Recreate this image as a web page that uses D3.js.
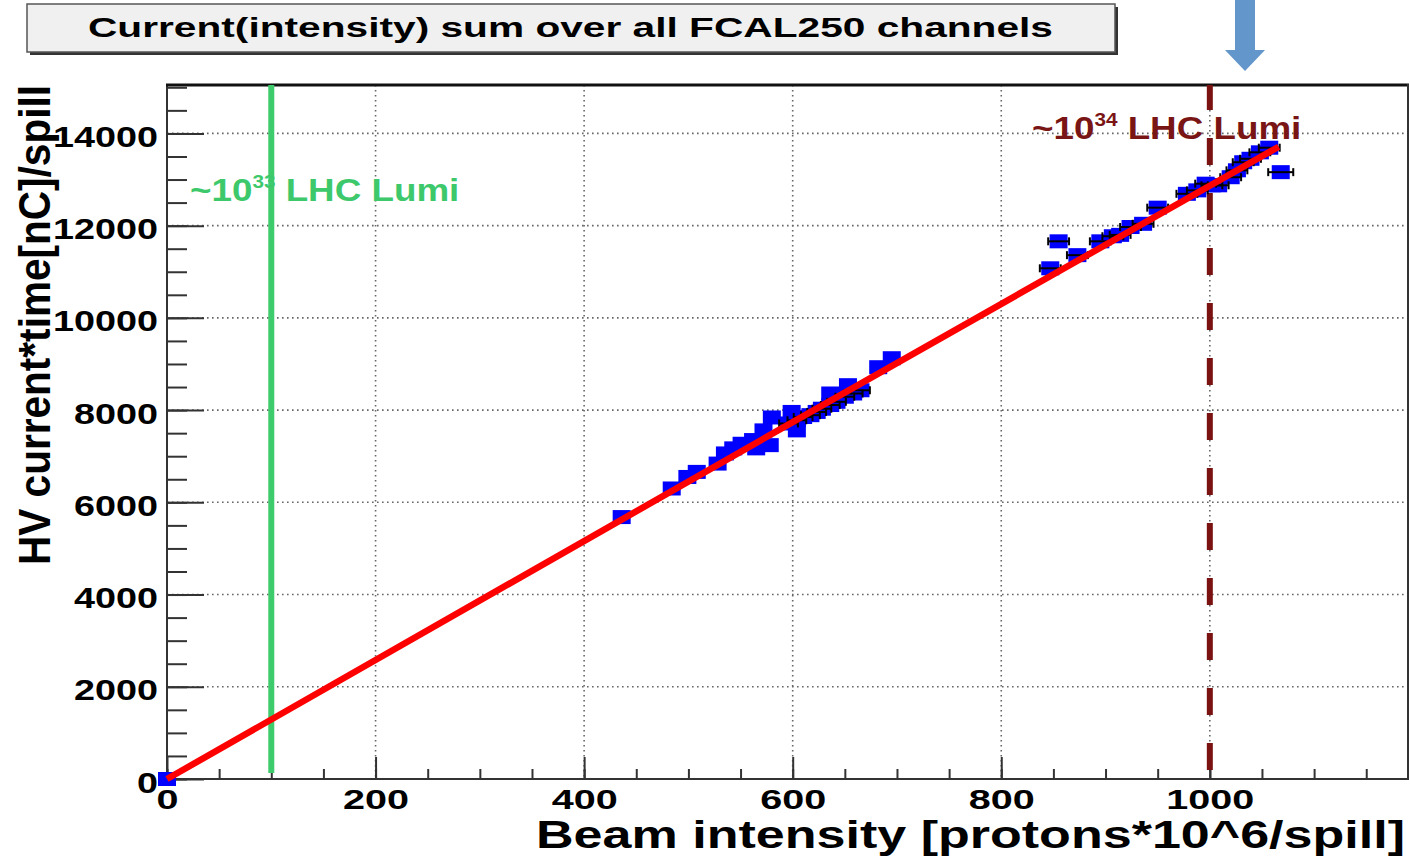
<!DOCTYPE html>
<html>
<head>
<meta charset="utf-8">
<title>FCAL250 current sum</title>
<script src="https://cdn.jsdelivr.net/npm/d3@7"></script>
<style>
  body { margin: 0; background: #fff; }
  svg text { font-family: "Liberation Sans", Arial, Helvetica, sans-serif; font-weight: bold; }
</style>
</head>
<body>
<script>
// data: beam intensity, HV current*time, horizontal error
const beam = [0, 436, 484, 499, 508, 528, 535, 543, 551, 562, 565, 572, 578, 580, 599, 604,
  596, 604, 610, 617, 623, 628, 636, 642, 650, 658, 665, 636, 653, 682, 695,
  847, 855, 873, 895, 907, 914, 924, 936, 950, 978, 988, 996, 1002, 1008, 1020, 1026, 1032, 1039, 1048, 1057, 1068];
const charge = [0, 5680, 6300, 6550, 6660, 6840, 7060, 7170, 7270, 7350, 7170, 7560, 7240, 7840, 7960, 7560,
  7710, 7780, 7850, 7890, 7960, 8030, 8110, 8180, 8290, 8360, 8430, 8360, 8540, 8930, 9125,
  11075, 11660, 11360, 11660, 11770, 11800, 11970, 12040, 12390, 12690, 12765, 12910, 12875, 12875, 13050, 13200, 13375, 13450, 13590, 13690, 13160];
const beamErr = [0, 0, 0, 0, 0, 0, 0, 0, 0, 0, 0, 0, 0, 0, 0, 0,
  9, 9, 9, 9, 9, 9, 9, 9, 9, 9, 9, 0, 0, 0, 0,
  10, 10, 10, 10, 10, 10, 10, 10, 10, 10, 10, 10, 10, 10, 10, 10, 10, 10, 10, 10, 12];

// linear fit (red)
const fitBeam = [0, 600, 1066];
const fitCharge = [0, 7740, 13710];

const xMajor = [0, 200, 400, 600, 800, 1000];
const yMajor = [0, 2000, 4000, 6000, 8000, 10000, 12000, 14000];
const xMinor = d3.range(0, 1200, 50);
const yMinor = d3.range(0, 15001, 500);

const lumi33 = 100, lumi34 = 1000;

const W = 1410, H = 856;
const svg = d3.select('body').append('svg').attr('width', W).attr('height', H);

const x = d3.scaleLinear().domain([0, 1191]).range([167, 1409]);
const y = d3.scaleLinear().domain([0, 15050]).range([779, 85]);

// title box
svg.append('rect').attr('x', 30).attr('y', 7).attr('width', 1088).attr('height', 48).attr('fill', '#333');
svg.append('rect').attr('x', 27).attr('y', 4).attr('width', 1088).attr('height', 48)
  .attr('fill', '#f0f0f0').attr('stroke', '#555').attr('stroke-width', 1.5);
svg.append('text').attr('x', 88).attr('y', 37).attr('font-size', 27)
  .attr('textLength', 965).attr('lengthAdjust', 'spacingAndGlyphs')
  .text('Current(intensity) sum over all FCAL250 channels');

// blue arrow
svg.append('path')
  .attr('d', 'M1235,0 L1255,0 L1255,50 L1265,50 L1245,71 L1225,50 L1235,50 Z')
  .attr('fill', '#6396cb');

// grid
const grid = svg.append('g').attr('stroke', '#666').attr('stroke-width', 1.6).attr('stroke-dasharray', '1.6,3.4');
grid.selectAll('.gx').data(xMajor.slice(1)).enter().append('line')
  .attr('x1', d => x(d)).attr('x2', d => x(d)).attr('y1', y.range()[1]).attr('y2', y.range()[0]);
grid.selectAll('.gy').data(yMajor.slice(1)).enter().append('line')
  .attr('y1', d => y(d)).attr('y2', d => y(d)).attr('x1', x.range()[0]).attr('x2', x.range()[1]);

// axes
function styleAxis(g) {
  g.select('.domain').remove();
  g.selectAll('line').attr('stroke', '#333').attr('stroke-width', 2);
}
svg.append('g').attr('transform', `translate(${x.range()[0]},0)`)
  .call(d3.axisLeft(y).tickValues(yMinor).tickSize(-20).tickFormat(''))
  .call(styleAxis);
svg.append('g').attr('transform', `translate(${x.range()[0]},0)`)
  .call(d3.axisLeft(y).tickValues(yMajor).tickSize(-37).tickPadding(9).tickFormat(d3.format('d')))
  .call(styleAxis)
  .selectAll('text')
  .attr('font-size', 29).attr('fill', '#000').attr('dy', '0.45em')
  .attr('textLength', d => String(d).length * 21).attr('lengthAdjust', 'spacingAndGlyphs');

svg.append('g').attr('transform', `translate(0,${y.range()[0]})`)
  .call(d3.axisBottom(x).tickValues(xMinor).tickSize(-10).tickFormat(''))
  .call(styleAxis);
svg.append('g').attr('transform', `translate(0,${y.range()[0]})`)
  .call(d3.axisBottom(x).tickValues(xMajor).tickSize(-22).tickPadding(10).tickFormat(d3.format('d')))
  .call(styleAxis)
  .selectAll('text')
  .attr('font-size', 28).attr('fill', '#000')
  .attr('textLength', d => String(d).length * 22).attr('lengthAdjust', 'spacingAndGlyphs');

// frame
svg.append('line').attr('x1', 167).attr('x2', 167).attr('y1', 84).attr('y2', 780).attr('stroke', '#333').attr('stroke-width', 2);
svg.append('line').attr('x1', 166).attr('x2', 1409).attr('y1', 779).attr('y2', 779).attr('stroke', '#333').attr('stroke-width', 2);
svg.append('line').attr('x1', 166).attr('x2', 1409).attr('y1', 85).attr('y2', 85).attr('stroke', '#111').attr('stroke-width', 3);
svg.append('line').attr('x1', 1408).attr('x2', 1408).attr('y1', 84).attr('y2', 780).attr('stroke', '#333').attr('stroke-width', 2);

// luminosity markers
svg.append('line').attr('x1', x(lumi33)).attr('x2', x(lumi33)).attr('y1', 85).attr('y2', 773)
  .attr('stroke', '#3dcb6b').attr('stroke-width', 6);
svg.append('line').attr('x1', x(lumi34)).attr('x2', x(lumi34)).attr('y1', 85).attr('y2', 779)
  .attr('stroke', '#7a1212').attr('stroke-width', 6)
  .attr('stroke-dasharray', '27,28').attr('stroke-dashoffset', 2);

function lumiLabel(px, py, sup, color) {
  const t = svg.append('text').attr('transform', `translate(${px},${py}) scale(1.15,1)`)
    .attr('fill', color).attr('font-size', 32);
  t.append('tspan').text('~10');
  t.append('tspan').attr('dy', -13).attr('font-size', 18).text(sup);
  t.append('tspan').attr('dy', 13).text(' LHC Lumi');
}
lumiLabel(190, 201, '33', '#3dc96b');
lumiLabel(1032, 139, '34', '#7a1515');

// points
const pts = beam.map((b, i) => ({b: b, c: charge[i], e: beamErr[i]}));
svg.append('g').selectAll('rect').data(pts).enter().append('rect')
  .attr('x', d => x(d.b) - 9).attr('y', d => y(d.c) - 7)
  .attr('width', 18).attr('height', 14).attr('fill', '#0000ff');

const eb = svg.append('g').attr('stroke', '#000').attr('stroke-width', 2)
  .selectAll('g').data(pts.filter(d => d.e > 0)).enter().append('g');
eb.append('line').attr('x1', d => x(d.b - d.e)).attr('x2', d => x(d.b + d.e))
  .attr('y1', d => y(d.c)).attr('y2', d => y(d.c));
eb.append('line').attr('x1', d => x(d.b - d.e)).attr('x2', d => x(d.b - d.e))
  .attr('y1', d => y(d.c) - 4).attr('y2', d => y(d.c) + 4);
eb.append('line').attr('x1', d => x(d.b + d.e)).attr('x2', d => x(d.b + d.e))
  .attr('y1', d => y(d.c) - 4).attr('y2', d => y(d.c) + 4);

// fit line
svg.append('path')
  .datum(fitBeam.map((b, i) => [b, fitCharge[i]]))
  .attr('fill', 'none').attr('stroke', '#ff0000').attr('stroke-width', 6.5)
  .attr('d', d3.line().x(d => x(d[0])).y(d => y(d[1])));

// axis titles
svg.append('text').attr('transform', 'translate(50,325) rotate(-90)')
  .attr('text-anchor', 'middle').attr('font-size', 44)
  .attr('textLength', 480).attr('lengthAdjust', 'spacingAndGlyphs')
  .text('HV current*time[nC]/spill');
svg.append('text').attr('x', 1405).attr('y', 848)
  .attr('text-anchor', 'end').attr('font-size', 38)
  .attr('textLength', 869).attr('lengthAdjust', 'spacingAndGlyphs')
  .text('Beam intensity [protons*10^6/spill]');
</script>
</body>
</html>
